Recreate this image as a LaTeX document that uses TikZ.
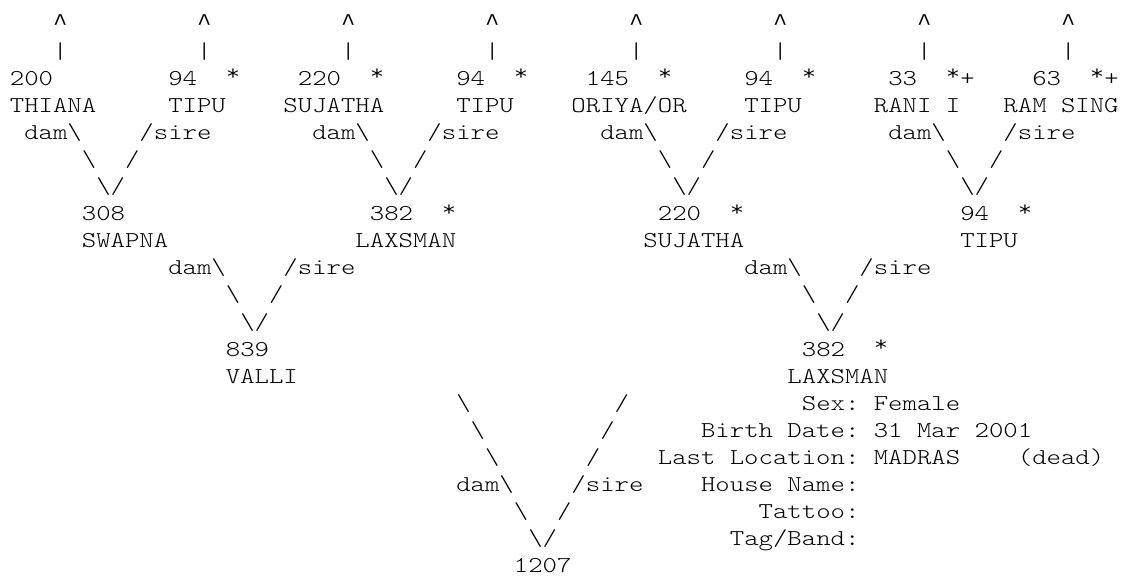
\documentclass[tikz,border=0pt]{standalone}
\usepackage{fontspec}
\setmonofont{lmmonolt10-regular.otf}[FakeStretch=1.21]
\newfontfamily\caretfont{Liberation Mono}
\newcommand{\mk}[1]{\raisebox{0.2em}{#1}}
\usetikzlibrary{positioning}

\begin{document}
\begin{tikzpicture}[
    x=10.8pt, y=-20.325pt,
    txt/.style={inner sep=0pt, anchor=base west, font=\ttfamily\fontsize{17pt}{20pt}\selectfont\frenchspacing},
    lnk/.style={txt},
    info/.style={txt},
    tip/.style={inner sep=0pt, anchor=base west, font=\caretfont\fontsize{18pt}{20pt}\selectfont}
]
    \fill [white] (-0.667,-1.142) rectangle (77.389,20.224);

    % ancestors off the chart
    \foreach \k in {0,...,7} {
        \node [tip] (up\k) at (3+10*\k,0) {\textasciicircum};
        \node [lnk] (bar\k) at (3+10*\k,1) {\textbar};
    }

    % great-grandparents
    \node [txt] (num4a) at (0,2) {200};
    \node [txt] (num4b) at (11,2) {94};
    \node [txt] (mk4b) at (15,2) {\mk{*}};
    \node [txt] (num4c) at (20,2) {220};
    \node [txt] (mk4c) at (25,2) {\mk{*}};
    \node [txt] (num4d) at (31,2) {94};
    \node [txt] (mk4d) at (35,2) {\mk{*}};
    \node [txt] (num4e) at (40,2) {145};
    \node [txt] (mk4e) at (45,2) {\mk{*}};
    \node [txt] (num4f) at (51,2) {94};
    \node [txt] (mk4f) at (55,2) {\mk{*}};
    \node [txt] (num4g) at (61,2) {33};
    \node [txt] (mk4g) at (65,2) {\mk{*}+};
    \node [txt] (num4h) at (71,2) {63};
    \node [txt] (mk4h) at (75,2) {\mk{*}+};

    \node [txt] (name4a) at (0,3) {THIANA};
    \node [txt] (name4b) at (11,3) {TIPU};
    \node [txt] (name4c) at (19,3) {SUJATHA};
    \node [txt] (name4d) at (31,3) {TIPU};
    \node [txt] (name4e) at (39,3) {ORIYA/OR};
    \node [txt] (name4f) at (51,3) {TIPU};
    \node [txt] (name4g) at (60,3) {RANI I};
    \node [txt] (name4h) at (69,3) {RAM SING};

    \foreach \p in {0,...,3} {
        \node [lnk] (dam4\p) at (20*\p+1,4) {dam\textbackslash};
        \node [lnk] (sire4\p) at (20*\p+9,4) {/sire};
        \node [lnk] (dl4\p) at (20*\p+5,5) {\textbackslash};
        \node [lnk] (sl4\p) at (20*\p+8,5) {/};
        \node [lnk] (v4\p) at (20*\p+6,6) {\textbackslash/};
    }

    % grandparents
    \node [txt] (num3a) at (5,7) {308};
    \node [txt] (num3b) at (25,7) {382};
    \node [txt] (mk3b) at (30,7) {\mk{*}};
    \node [txt] (num3c) at (45,7) {220};
    \node [txt] (mk3c) at (50,7) {\mk{*}};
    \node [txt] (num3d) at (66,7) {94};
    \node [txt] (mk3d) at (70,7) {\mk{*}};

    \node [txt] (name3a) at (5,8) {SWAPNA};
    \node [txt] (name3b) at (24,8) {LAXSMAN};
    \node [txt] (name3c) at (44,8) {SUJATHA};
    \node [txt] (name3d) at (66,8) {TIPU};

    \foreach \q in {0,1} {
        \node [lnk] (dam3\q) at (40*\q+11,9) {dam\textbackslash};
        \node [lnk] (sire3\q) at (40*\q+19,9) {/sire};
        \node [lnk] (dl3\q) at (40*\q+15,10) {\textbackslash};
        \node [lnk] (sl3\q) at (40*\q+18,10) {/};
        \node [lnk] (v3\q) at (40*\q+16,11) {\textbackslash/};
    }

    % parents
    \node [txt] (num2a) at (15,12) {839};
    \node [txt] (num2b) at (55,12) {382};
    \node [txt] (mk2b) at (60,12) {\mk{*}};
    \node [txt] (name2a) at (15,13) {VALLI};
    \node [txt] (name2b) at (54,13) {LAXSMAN};

    \node [lnk] (dl1a) at (31,14) {\textbackslash};
    \node [lnk] (sl1a) at (42,14) {/};
    \node [lnk] (dl1b) at (32,15) {\textbackslash};
    \node [lnk] (sl1b) at (41,15) {/};
    \node [lnk] (dl1c) at (33,16) {\textbackslash};
    \node [lnk] (sl1c) at (40,16) {/};
    \node [lnk] (dam1) at (31,17) {dam\textbackslash};
    \node [lnk] (sire1) at (39,17) {/sire};
    \node [lnk] (dl1d) at (35,18) {\textbackslash};
    \node [lnk] (sl1d) at (38,18) {/};
    \node [lnk] (v1) at (36,19) {\textbackslash/};
    \node [txt] (num1) at (35,20) {1207};

    % details
    \node [info] (sex) at (55,14) {Sex: Female};
    \node [info] (birth) at (48,15) {Birth Date: 31 Mar 2001};
    \node [info] (loc) at (45,16) {Last Location: MADRAS};
    \node [info] (dead) at (70,16) {(dead)};
    \node [info] (house) at (48,17) {House Name:};
    \node [info] (tattoo) at (52,18) {Tattoo:};
    \node [info] (band) at (50,19) {Tag/Band:};
\end{tikzpicture}
\end{document}
